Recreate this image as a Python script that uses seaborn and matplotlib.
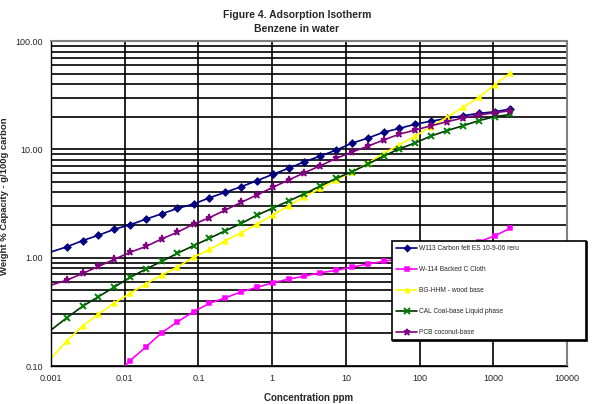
import numpy as np
import pandas as pd
import seaborn as sns
import matplotlib
matplotlib.use("Agg")
import matplotlib.pyplot as plt
from matplotlib.ticker import LogLocator, FuncFormatter, NullFormatter

# Data (concentration ppm, weight % capacity)
conc = [0.001, 0.00164, 0.0027, 0.0044, 0.0072, 0.0118, 0.0194, 0.0318,
        0.052, 0.086, 0.141, 0.231, 0.38, 0.62, 1.02, 1.67, 2.74, 4.5,
        7.4, 12.1, 19.9, 32.6, 53, 88, 144, 236, 387, 635, 1040, 1710]

w113 = [1.13, 1.26, 1.44, 1.61, 1.83, 2.01, 2.27, 2.54, 2.85, 3.13,
        3.57, 4.01, 4.52, 5.13, 5.88, 6.68, 7.68, 8.67, 9.85, 11.4,
        12.7, 14.4, 15.6, 17.1, 18.2, 19.3, 20.4, 21.5, 22.2, 23.6]

w114 = [None, None, None, None, 0.08, 0.112, 0.150, 0.203, 0.256, 0.317,
        0.379, 0.426, 0.484, 0.532, 0.586, 0.634, 0.676, 0.726, 0.764, 0.819,
        0.873, 0.925, 0.977, 1.03, 1.10, 1.19, 1.28, 1.40, 1.59, 1.87]

bg_hhm = [0.1175, 0.171, 0.235, 0.301, 0.381, 0.468, 0.574, 0.690, 0.824, 1.01,
          1.19, 1.43, 1.70, 2.04, 2.47, 3.01, 3.65, 4.36, 5.21, 6.21,
          7.43, 9.19, 11.0, 13.3, 16.2, 19.8, 24.4, 30.2, 39.2, 50.9]

cal = [0.215, 0.279, 0.357, 0.436, 0.535, 0.658, 0.785, 0.925, 1.10, 1.29,
       1.51, 1.77, 2.07, 2.46, 2.87, 3.33, 3.89, 4.58, 5.40, 6.21,
       7.31, 8.67, 10.1, 11.5, 13.3, 14.9, 16.5, 18.4, 20.0, 21.0]

pcb = [0.558, 0.621, 0.716, 0.831, 0.964, 1.12, 1.27, 1.49, 1.72, 2.04,
       2.34, 2.75, 3.24, 3.79, 4.46, 5.21, 6.08, 7.06, 8.26, 9.44,
       10.7, 12.2, 13.8, 15.1, 16.5, 18.0, 19.5, 20.7, 21.8, 22.7]

labels = ["W113 Carbon felt ES 10-9-06 reru", "W-114 Backed C Cloth",
          "BG-HHM - wood base", "CAL Coal-base Liquid phase", "PCB coconut-base"]
x_ticks = [0.001, 0.01, 0.1, 1, 10, 100, 1000, 10000]
y_ticks = [0.1, 1, 10, 100]

df = pd.DataFrame({"conc": conc, labels[0]: w113, labels[1]: w114,
                   labels[2]: bg_hhm, labels[3]: cal, labels[4]: pcb})
df = df.melt(id_vars="conc", var_name="series", value_name="capacity").dropna()

# style per series: line colour, marker, marker colour, marker size
styles = {
    labels[0]: ("#000080", "D", "#000080", 3.4),
    labels[1]: ("#FF00FF", "s", "#FF00FF", 3.4),
    labels[2]: ("#FFFF00", "^", "#FFFF00", 3.6),
    labels[3]: ("#003300", "x", "#008000", 4.2),
    labels[4]: ("#800080", "*", "#800080", 5.2),
}

sns.set_style("white")
plt.rcParams["font.family"] = ["Liberation Sans", "DejaVu Sans"]

fig = plt.figure(figsize=(6, 4.04), dpi=100)
ax = fig.add_axes([0.085, 0.094, 0.86, 0.8045])

for name in labels:
    sub = df[df["series"] == name]
    col, mk, mcol, ms = styles[name]
    first = 1 if sub["conc"].iloc[0] <= 0.001 else 0
    sns.lineplot(data=sub, x="conc", y="capacity", ax=ax, color=col,
                 label=name, linewidth=1.2, marker=mk, markersize=ms,
                 markerfacecolor=mcol, markeredgecolor=mcol,
                 markeredgewidth=1.4 if mk == "x" else 1.1,
                 markevery=slice(first, None), estimator=None, sort=False)

ax.set_xscale("log")
ax.set_yscale("log")
ax.set_xlim(0.001, 10000)
ax.set_ylim(0.1, 100)

ax.set_xticks(x_ticks)
ax.set_yticks(y_ticks)
ax.xaxis.set_major_formatter(FuncFormatter(lambda v, p: "%g" % v))
ax.yaxis.set_major_formatter(FuncFormatter(lambda v, p: "%.2f" % v))
ax.xaxis.set_minor_locator(LogLocator(base=10, subs=np.arange(2, 10), numticks=20))
ax.yaxis.set_minor_locator(LogLocator(base=10, subs=np.arange(2, 10), numticks=20))
ax.xaxis.set_minor_formatter(NullFormatter())
ax.yaxis.set_minor_formatter(NullFormatter())

ax.grid(which="major", axis="both", color="black", linewidth=1.2)
ax.grid(which="minor", axis="y", color="black", linewidth=1.2)
ax.set_axisbelow(True)

ax.tick_params(axis="both", which="major", labelsize=6.5, length=3, color="black", pad=3)
ax.tick_params(axis="x", which="minor", direction="in", length=2.5, color="black")
ax.tick_params(axis="y", which="minor", length=0)
ax.tick_params(axis="x", which="major", length=0, pad=6)

for s in ["left", "bottom"]:
    ax.spines[s].set_color("black")
    ax.spines[s].set_linewidth(1.0)
for s in ["top", "right"]:
    ax.spines[s].set_color("#808080")
    ax.spines[s].set_linewidth(1.5)

ax.set_xlabel("Concentration ppm", fontsize=7, fontweight="bold", labelpad=7)
ax.set_ylabel("Weight % Capacity - g/100g carbon", fontsize=6.8, fontweight="bold")
ax.yaxis.set_label_coords(-0.081, 0.523)

fig.text(0.495, 0.962, "Figure 4. Adsorption Isotherm", ha="center", va="center",
         fontsize=7.5, fontweight="bold")
fig.text(0.495, 0.928, "Benzene in water", ha="center", va="center",
         fontsize=7.5, fontweight="bold")

leg = ax.legend(loc="upper left", bbox_to_anchor=(0.661, 0.077, 0.376, 0.308),
                mode="expand", borderaxespad=0, fontsize=4.8, labelspacing=2.1,
                handlelength=3.2, handletextpad=0.3, fancybox=False,
                framealpha=1, edgecolor="black", borderpad=0.6, markerscale=0.9,
                shadow={"color": "black", "alpha": 1, "ox": 1, "oy": -1})
leg.get_frame().set_linewidth(1.2)

fig.savefig("out.png", dpi=100)
